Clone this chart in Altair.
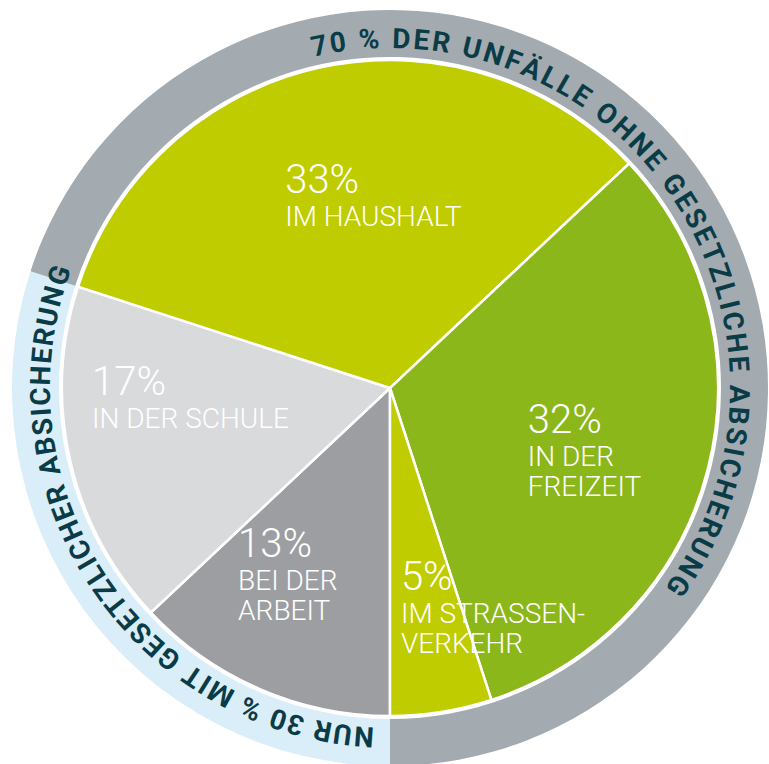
import math
import altair as alt
import pandas as pd

# ---------------- data ----------------
categories = ["BEI DER ARBEIT", "IN DER SCHULE", "IM HAUSHALT", "IN DER FREIZEIT", "IM STRASSENVERKEHR"]
values = [13, 17, 33, 32, 5]
pct_labels = ["13%", "17%", "33%", "32%", "5%"]
sub_labels = ["BEI DER\nARBEIT", "IN DER SCHULE", "IM HAUSHALT", "IN DER\nFREIZEIT", "IM STRASSEN-\nVERKEHR"]

ring_groups = ["NUR 30 % MIT GESETZLICHER ABSICHERUNG",
               "70 % DER UNFÄLLE OHNE GESETZLICHE ABSICHERUNG"]
ring_values = [30, 70]

# ---------------- style / layout ----------------
slice_colors = ["#9D9EA1", "#D9DADC", "#BFCC00", "#8CB71A", "#BFCC00"]
ring_colors = ["#DAEEF9", "#A3ABB0"]
text_dark = "#0A3C48"
CX, CY = 390, 388
START_DEG = 180.0
PIE_R = 328
RING_IN, RING_OUT = 331, 378
TEXT_R = 348
RING_FS = 28
ring_text_shift = [2.5, 2.5]      # degrees, offset of text centre from segment centre
ring_text_span = [107.7, 139.0]   # degrees covered by each ring text
label_nudge_deg = [18.6, 11.25, -15.7, 3.7, 5.9]
label_radius = [227, 298, 221, 145, 202]

TWO_PI = 2 * math.pi
polar_scale = alt.Scale(domain=[0, 360], range=[0, TWO_PI])
stack_range = [math.radians(START_DEG), math.radians(START_DEG) + TWO_PI]

# ---------------- pie ----------------
pie_df = pd.DataFrame({"cat": categories, "value": values, "ord": list(range(len(values)))})
pie = alt.Chart(pie_df).mark_arc(outerRadius=PIE_R, stroke="white", strokeWidth=2.5).encode(
    theta=alt.Theta("value:Q", stack=True, scale=alt.Scale(range=stack_range)),
    order=alt.Order("ord:Q"),
    color=alt.Color("cat:N", scale=alt.Scale(domain=categories, range=slice_colors), legend=None),
    x=alt.value(CX), y=alt.value(CY),
)

# ---------------- ring ----------------
ring_df = pd.DataFrame({"grp": ring_groups, "value": ring_values, "ord": [0, 1]})
ring = alt.Chart(ring_df).mark_arc(innerRadius=RING_IN, outerRadius=RING_OUT).encode(
    theta=alt.Theta("value:Q", stack=True, scale=alt.Scale(range=stack_range)),
    order=alt.Order("ord:Q"),
    color=alt.Color("grp:N", scale=alt.Scale(domain=ring_groups, range=ring_colors), legend=None),
    x=alt.value(CX), y=alt.value(CY),
)

# ---------------- slice labels ----------------
total = sum(values)
mids = []
acc = 0.0
for v in values:
    mids.append(START_DEG + (acc + v / 2) / total * 360)
    acc += v
lab_df = pd.DataFrame({
    "pct": pct_labels,
    "sub": sub_labels,
    "lth": [(m + d) % 360 for m, d in zip(mids, label_nudge_deg)],
    "lr": label_radius,
})
pct_text = alt.Chart(lab_df).mark_text(
    align="left", baseline="alphabetic", font="Roboto", fontSize=40, fontWeight=300, color="white"
).encode(
    theta=alt.Theta("lth:Q", scale=polar_scale, stack=False),
    radius=alt.Radius("lr:Q", scale=None),
    text="pct:N",
    x=alt.value(CX), y=alt.value(CY),
)
sub_text = alt.Chart(lab_df).mark_text(
    align="left", baseline="alphabetic", font="Roboto", fontSize=28, fontWeight=300, color="white",
    dy=33, lineBreak="\n", lineHeight=30
).encode(
    theta=alt.Theta("lth:Q", scale=polar_scale, stack=False),
    radius=alt.Radius("lr:Q", scale=None),
    text="sub:N",
    x=alt.value(CX), y=alt.value(CY),
)

# ---------------- curved ring text ----------------
W = {" ": 0.25, "%": 0.73, "0": 0.56, "3": 0.56, "7": 0.56, "A": 0.66, "B": 0.64, "C": 0.65,
     "D": 0.64, "E": 0.56, "F": 0.54, "G": 0.68, "H": 0.71, "I": 0.29, "L": 0.54, "M": 0.87,
     "N": 0.71, "O": 0.69, "R": 0.63, "S": 0.61, "T": 0.61, "U": 0.66, "Z": 0.61, "Ä": 0.66}
rows = []
seg_start = START_DEG
for grp, val, shift, span in zip(ring_groups, ring_values, ring_text_shift, ring_text_span):
    seg_deg = val / sum(ring_values) * 360
    mid = seg_start + seg_deg / 2 + shift
    start = mid - span / 2
    span_px = math.radians(span) * TEXT_R
    widths = [W.get(c, 0.6) * RING_FS for c in grp]
    track = (span_px - sum(widths)) / (len(grp) - 1)
    s = 0.0
    for c, w in zip(grp, widths):
        centre = s + w / 2
        th = (start + math.degrees(centre / TEXT_R)) % 360
        if c != " ":
            rows.append({"ch": c, "th": th, "ang": th})
        s += w + track
    seg_start += seg_deg
char_df = pd.DataFrame(rows)
ring_text = alt.Chart(char_df).mark_text(
    align="center", baseline="middle", font="Roboto", fontSize=RING_FS, fontWeight="bold", color=text_dark
).encode(
    theta=alt.Theta("th:Q", scale=polar_scale, stack=False),
    radius=alt.value(TEXT_R),
    angle=alt.Angle("ang:Q", scale=None),
    text="ch:N",
    x=alt.value(CX), y=alt.value(CY),
)

chart = alt.layer(ring, pie, pct_text, sub_text, ring_text).resolve_scale(
    theta="independent", color="independent", radius="independent"
).properties(
    width=769, height=764, padding=0, autosize="none", background="white"
).configure_view(stroke=None)

chart.save("out.html", embed_options={"renderer": "svg", "actions": False})
